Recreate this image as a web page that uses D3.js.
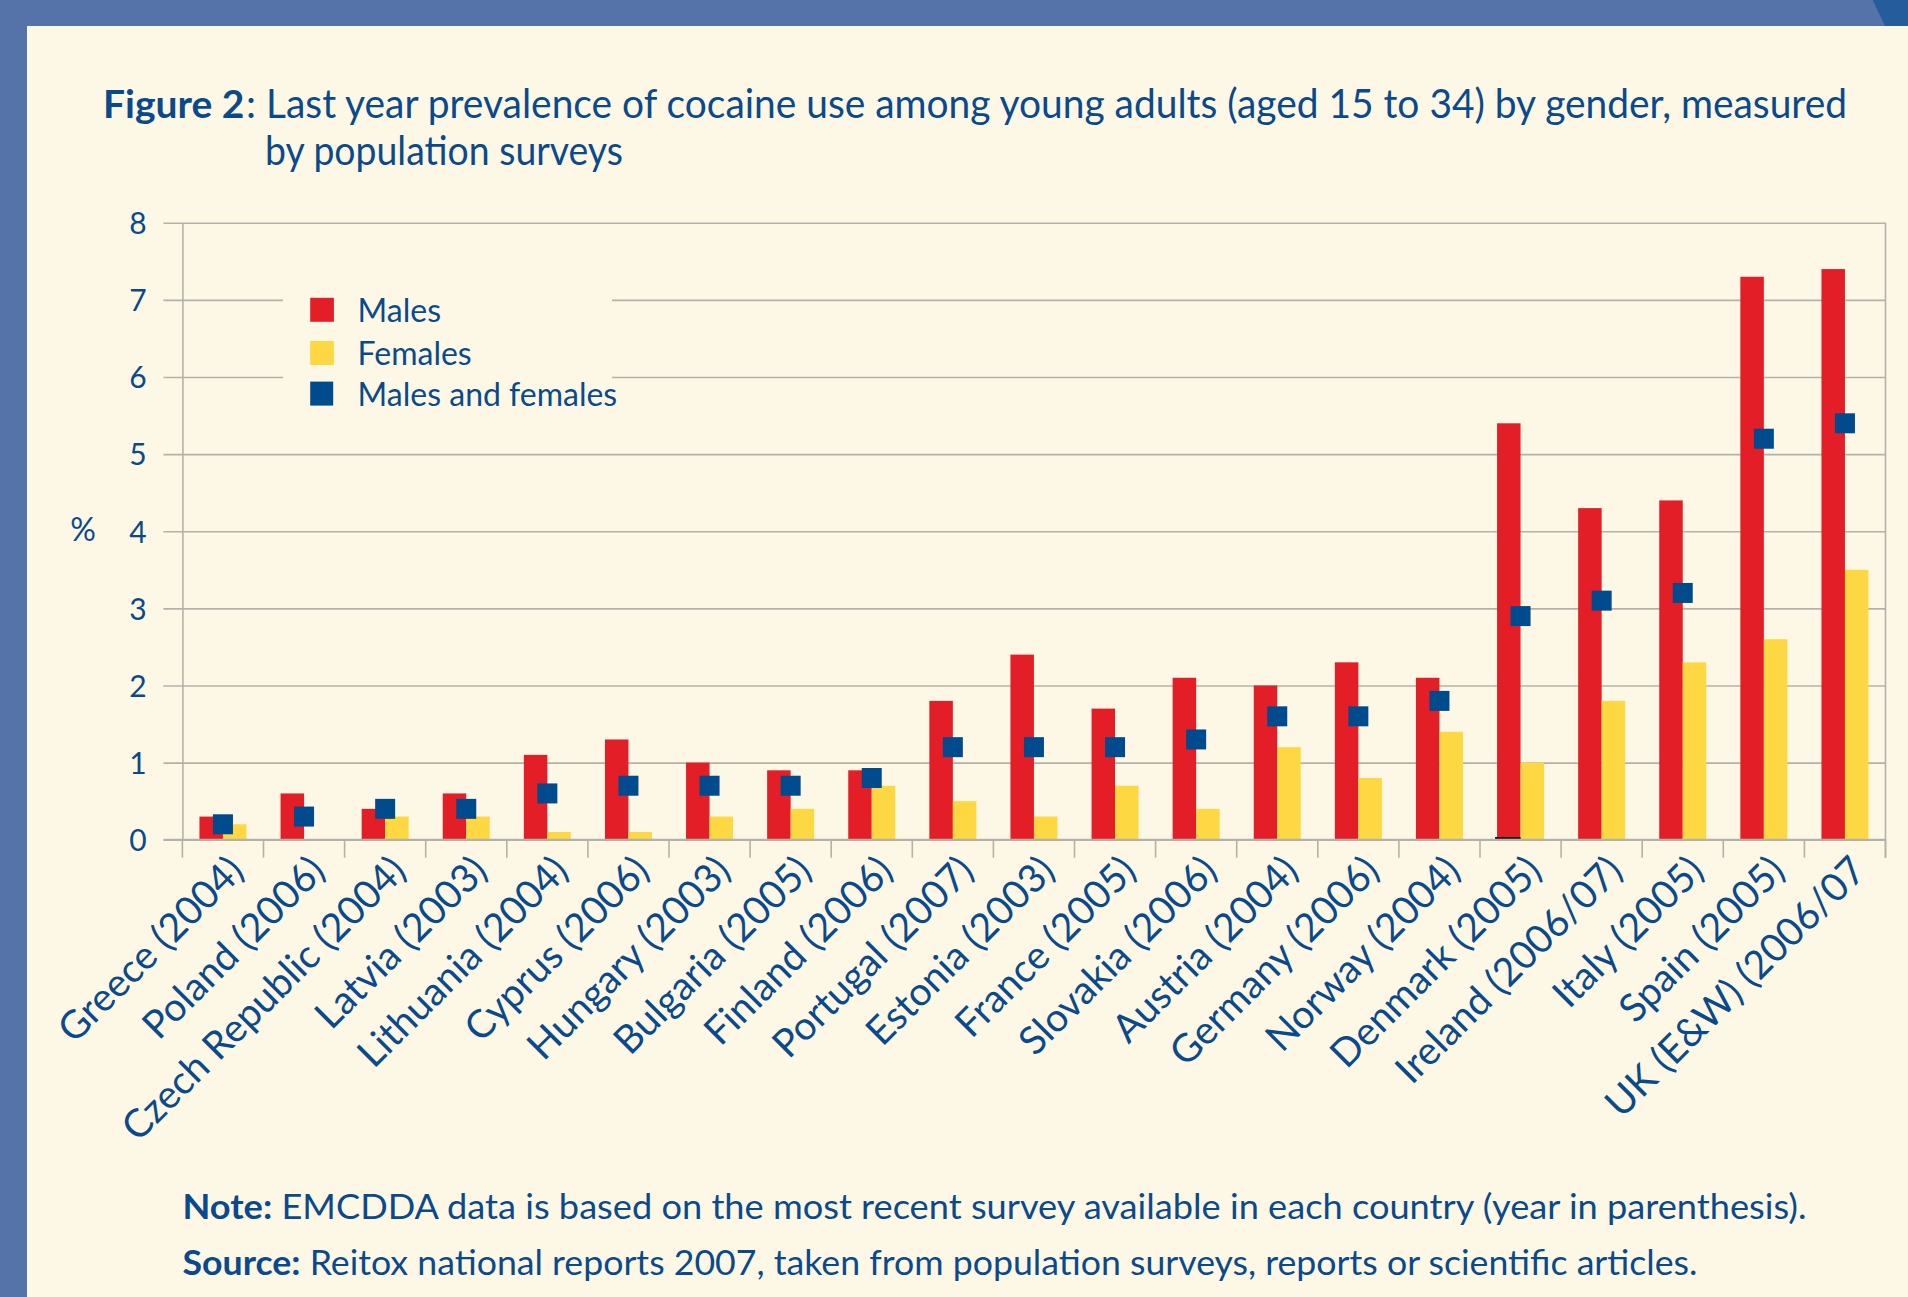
<!DOCTYPE html>
<html>
<head>
<meta charset="utf-8">
<script src="https://cdn.jsdelivr.net/npm/d3@7"></script>
<style>
  html, body { margin: 0; padding: 0; background: #fdf8e6; }
  svg { display: block; }
</style>
</head>
<body>
<div id="chart"></div>
<script>
// Chart data
const countries = [
  "Greece (2004)", "Poland (2006)", "Czech Republic (2004)", "Latvia (2003)",
  "Lithuania (2004)", "Cyprus (2006)", "Hungary (2003)", "Bulgaria (2005)",
  "Finland (2006)", "Portugal (2007)", "Estonia (2003)", "France (2005)",
  "Slovakia (2006)", "Austria (2004)", "Germany (2006)", "Norway (2004)",
  "Denmark (2005)", "Ireland (2006/07)", "Italy (2005)", "Spain (2005)",
  "UK (E&W) (2006/07"
];
const males = [0.3, 0.6, 0.4, 0.6, 1.1, 1.3, 1.0, 0.9, 0.9, 1.8, 2.4, 1.7, 2.1, 2.0, 2.3, 2.1, 5.4, 4.3, 4.4, 7.3, 7.4];
const females = [0.2, null, 0.3, 0.3, 0.1, 0.1, 0.3, 0.4, 0.7, 0.5, 0.3, 0.7, 0.4, 1.2, 0.8, 1.4, 1.0, 1.8, 2.3, 2.6, 3.5];
const malesAndFemales = [0.2, 0.3, 0.4, 0.4, 0.6, 0.7, 0.7, 0.7, 0.8, 1.2, 1.2, 1.2, 1.3, 1.6, 1.6, 1.8, 2.9, 3.1, 3.2, 5.2, 5.4];
// thin dark stub drawn at the foot of the Denmark bar in the original
const darkStub = [null, null, null, null, null, null, null, null, null, null, null, null, null, null, null, null, 0.035, null, null, null, null];
const yTicks = [0, 1, 2, 3, 4, 5, 6, 7, 8];
const legendLabels = ["Males", "Females", "Males and females"];

const width = 1908, height = 1297;
const plot = { left: 182.4, right: 1885.5, top: 222.8, bottom: 839.7 };

const navy = "#0a4a8c";
const colors = { males: "#e31e26", females: "#fed843", both: "#004b8d" };
const font = "Lato, 'Open Sans', sans-serif";

const svg = d3.select("#chart").append("svg")
  .attr("width", width).attr("height", height)
  .style("font-family", font);

// Page frame
svg.append("rect").attr("width", width).attr("height", height).attr("fill", "#fdf8e6");
svg.append("rect").attr("x", 0).attr("y", 0).attr("width", 27).attr("height", height).attr("fill", "#5673a9");
svg.append("rect").attr("x", 0).attr("y", 0).attr("width", width).attr("height", 26).attr("fill", "#5673a9");
svg.append("polygon").attr("points", "1872.7,0 1908,0 1908,26 1885,26").attr("fill", "#245c9c");

// Title
svg.append("text").attr("x", 103).attr("y", 118)
  .attr("fill", navy).style("font-size", "39px").style("font-weight", "bold")
  .text("Figure 2");
svg.append("text").attr("x", 246).attr("y", 118)
  .attr("fill", navy).style("font-size", "40px")
  .text(":");
svg.append("text").attr("x", 266).attr("y", 118)
  .attr("fill", navy).style("font-size", "40px")
  .attr("textLength", 1581).attr("lengthAdjust", "spacingAndGlyphs")
  .text("Last year prevalence of cocaine use among young adults (aged 15 to 34) by gender, measured");
svg.append("text").attr("x", 265).attr("y", 165)
  .attr("fill", navy).style("font-size", "40px")
  .attr("textLength", 358).attr("lengthAdjust", "spacingAndGlyphs")
  .text("by population surveys");

// Scales
const x = d3.scaleBand().domain(countries).range([plot.left, plot.right]).padding(0);
const bw = x.bandwidth();
const x1 = d3.scaleBand().domain(["males", "females"])
  .range([bw / 2 - 23.5, bw / 2 + 23.5]).padding(0);
const y = d3.scaleLinear().domain([0, 8]).range([plot.bottom, plot.top]);

const gridColor = "#b4b2a8";

// Gridlines (extend a little left of the axis like tick marks)
const grid = svg.append("g")
  .attr("transform", `translate(${plot.left - 19},0)`)
  .call(d3.axisLeft(y).tickValues(yTicks).tickSize(-(plot.right - plot.left + 19)).tickFormat(""));
grid.select(".domain").remove();
grid.selectAll("line").attr("stroke", gridColor).attr("stroke-width", 1.6);

// Y tick labels
const yAxis = svg.append("g")
  .attr("transform", `translate(${plot.left},0)`)
  .call(d3.axisLeft(y).tickValues(yTicks).tickSize(0).tickFormat(d3.format("d")));
yAxis.select(".domain").attr("stroke", gridColor).attr("stroke-width", 1.6);
yAxis.selectAll("text")
  .attr("x", 138 - plot.left).attr("dy", "0.36em")
  .attr("text-anchor", "middle")
  .attr("fill", navy).style("font-size", "30px").style("font-family", font);

// Right border line
svg.append("line")
  .attr("x1", plot.right).attr("x2", plot.right)
  .attr("y1", plot.top).attr("y2", plot.bottom + 18)
  .attr("stroke", gridColor).attr("stroke-width", 1.6);

// Category boundary ticks below the axis
const edges = countries.map(c => x(c)).concat([plot.right]);
svg.append("g").selectAll("line").data(edges).enter().append("line")
  .attr("x1", d => d).attr("x2", d => d)
  .attr("y1", plot.bottom).attr("y2", plot.bottom + 18)
  .attr("stroke", gridColor).attr("stroke-width", 1.6);

// "%" axis title
svg.append("text").attr("x", 83).attr("y", 541)
  .attr("text-anchor", "middle").attr("fill", navy)
  .style("font-size", "32px").text("%");

// Legend (background hides the gridlines behind it)
svg.append("rect").attr("x", 283).attr("y", 262).attr("width", 329).attr("height", 158)
  .attr("fill", "#fdf8e6");
const legendColors = [colors.males, colors.females, colors.both];
const legendY = [297.8, 341, 381.6];
const legend = svg.append("g");
legendLabels.forEach((label, i) => {
  legend.append("rect")
    .attr("x", 310.2).attr("y", legendY[i])
    .attr("width", i === 2 ? 23 : 23.7).attr("height", 24)
    .attr("fill", legendColors[i]);
  legend.append("text")
    .attr("x", 357.6).attr("y", legendY[i] + 24)
    .attr("fill", navy).style("font-size", "32px")
    .text(label);
});

// Bars
const barData = countries.map((c, i) => ({ c, males: males[i], females: females[i], both: malesAndFemales[i], stub: darkStub[i] }));

const groups = svg.append("g").selectAll("g").data(barData).enter().append("g")
  .attr("transform", d => `translate(${x(d.c)},0)`);

groups.filter(d => d.males != null).append("rect")
  .attr("x", x1("males")).attr("width", x1.bandwidth())
  .attr("y", d => y(d.males)).attr("height", d => y(0) - y(d.males))
  .attr("fill", colors.males);

groups.filter(d => d.females != null).append("rect")
  .attr("x", x1("females")).attr("width", x1.bandwidth())
  .attr("y", d => y(d.females)).attr("height", d => y(0) - y(d.females))
  .attr("fill", colors.females);

groups.filter(d => d.stub != null).append("rect")
  .attr("x", x1("males") - 2).attr("width", x1.bandwidth() + 2)
  .attr("y", d => y(d.stub)).attr("height", d => y(0) - y(d.stub))
  .attr("fill", "#111");

// x axis line over bar feet
svg.append("line")
  .attr("x1", plot.left - 19).attr("x2", plot.right)
  .attr("y1", plot.bottom).attr("y2", plot.bottom)
  .attr("stroke", gridColor).attr("stroke-width", 1.8);

// Males and females markers
groups.append("rect")
  .attr("x", bw / 2 - 10).attr("width", 20)
  .attr("y", d => y(d.both) - 10).attr("height", 20)
  .attr("fill", colors.both);

// Rotated category labels
svg.append("g").selectAll("text").data(countries).enter().append("text")
  .attr("transform", d => `translate(${x(d) + bw / 2 + 23},873) rotate(-45)`)
  .attr("text-anchor", "end")
  .attr("fill", navy).style("font-size", "39px")
  .text(d => d);

// Note and source
const note = svg.append("text").attr("x", 182.5).attr("y", 1219)
  .attr("fill", navy).style("font-size", "35px")
  .attr("textLength", 1624).attr("lengthAdjust", "spacingAndGlyphs");
note.append("tspan").style("font-weight", "bold").text("Note:");
note.append("tspan").text(" EMCDDA data is based on the most recent survey available in each country (year in parenthesis).");

const source = svg.append("text").attr("x", 182.5).attr("y", 1275)
  .attr("fill", navy).style("font-size", "35px")
  .attr("textLength", 1515).attr("lengthAdjust", "spacingAndGlyphs");
source.append("tspan").style("font-weight", "bold").text("Source:");
source.append("tspan").text(" Reitox national reports 2007, taken from population surveys, reports or scientific articles.");
</script>
</body>
</html>
